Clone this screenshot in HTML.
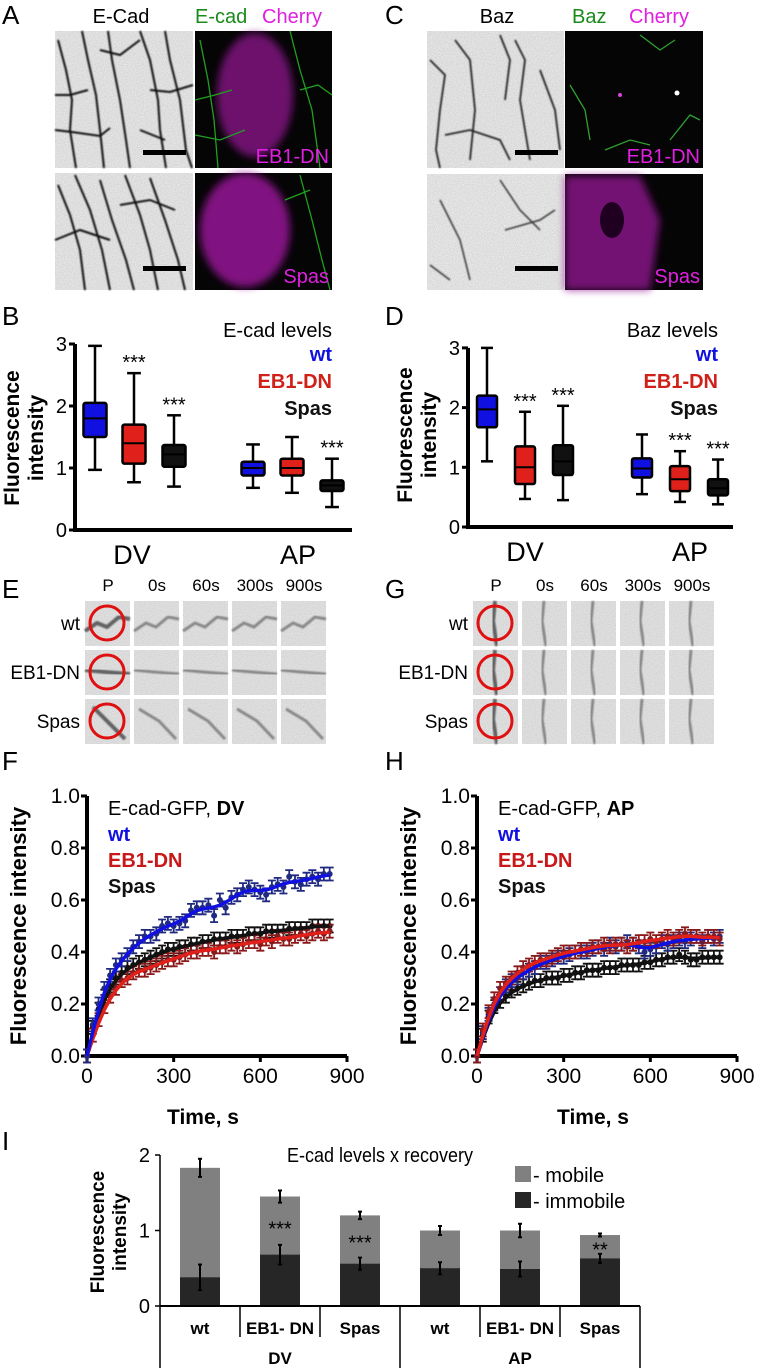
<!DOCTYPE html>
<html><head><meta charset="utf-8"><style>
html,body{margin:0;padding:0;background:#fff}
svg{display:block;font-family:"Liberation Sans",sans-serif}
</style></head><body>
<svg id="fig" width="757" height="1368" viewBox="0 0 757 1368" xmlns="http://www.w3.org/2000/svg">
<defs>
<filter id="blur3"><feGaussianBlur stdDeviation="4"/></filter>
<filter id="blur1"><feGaussianBlur stdDeviation="0.7"/></filter>
<filter id="noise" x="0" y="0" width="100%" height="100%"><feTurbulence type="fractalNoise" baseFrequency="0.9" numOctaves="1" seed="3"/><feColorMatrix type="matrix" values="0 0 0 0 0  0 0 0 0 0  0 0 0 0 0  0 0 0 0.18 0"/></filter>
</defs>

<g font-size="26">
<text x="2" y="24">A</text><text x="385" y="24">C</text>
<text x="2" y="325">B</text><text x="385" y="325">D</text>
<text x="2" y="598">E</text><text x="385" y="598">G</text>
<text x="2" y="770">F</text><text x="385" y="770">H</text>
<text x="2" y="1150">I</text>
</g>

<g>
<text x="121" y="23" font-size="20" text-anchor="middle">E-Cad</text>
<text x="195" y="23" font-size="20" fill="#1a8a1a">E-cad</text><text x="262" y="23" font-size="20" fill="#e020e0">Cherry</text>
<rect x="55" y="31" width="138" height="137" fill="#f4f4f4"/>
<rect x="55" y="31" width="138" height="137" filter="url(#noise)"/>
<g stroke="#111" stroke-width="2" fill="none" filter="url(#blur1)">
<path d="M58 40 L66 70 L72 100 L70 130 L76 168"/><path d="M82 31 L88 60 L96 95 L100 130 L104 168"/>
<path d="M108 31 L112 60 L120 100 L126 140 L130 168"/><path d="M140 31 L150 60 L158 100 L160 130 L166 168"/>
<path d="M165 31 L170 60 L180 100 L186 150 L192 168"/><path d="M55 95 L70 95 L88 90"/><path d="M55 130 L72 132 L100 136 L110 128"/>
<path d="M100 50 L120 55 L140 40"/><path d="M150 90 L170 92 L193 85"/><path d="M140 130 L165 140"/>
</g>
<rect x="143" y="150" width="43" height="5" fill="#000"/>
<rect x="55" y="173" width="138" height="117" fill="#f4f4f4"/>
<rect x="55" y="173" width="138" height="117" filter="url(#noise)"/>
<g stroke="#111" stroke-width="2" fill="none" filter="url(#blur1)">
<path d="M58 185 L70 215 L80 250 L85 290"/><path d="M75 175 L90 210 L102 250 L110 290"/><path d="M100 180 L112 220 L126 260 L134 290"/>
<path d="M125 175 L140 215 L150 250 L158 290"/><path d="M150 178 L165 220 L178 260 L185 290"/><path d="M55 240 L80 230 L110 240"/><path d="M120 205 L150 200 L175 210"/>
</g>
<rect x="143" y="266" width="43" height="5" fill="#000"/>
<rect x="195" y="31" width="137" height="137" fill="#050505"/>
<ellipse cx="255" cy="95" rx="38" ry="62" fill="#901890" filter="url(#blur3)" opacity="0.75"/>
<g stroke="#20a020" stroke-width="1.3" fill="none"><path d="M200 40 L208 80 L214 120 L218 168"/><path d="M195 100 L215 95 L232 90"/><path d="M290 31 L300 70 L312 110 L320 168"/><path d="M300 90 L318 85 L332 95"/><path d="M195 135 L220 140 L245 130"/></g>
<text x="329" y="163" font-size="20" fill="#e020e0" text-anchor="end">EB1-DN</text>
<rect x="195" y="173" width="137" height="117" fill="#050505"/>
<ellipse cx="245" cy="230" rx="45" ry="57" fill="#a018a0" filter="url(#blur3)" opacity="0.8"/>
<g stroke="#20a020" stroke-width="1.3" fill="none"><path d="M300 175 L312 220 L322 260 L330 290"/><path d="M285 200 L310 190"/></g>
<text x="329" y="283" font-size="20" fill="#e020e0" text-anchor="end">Spas</text>
</g>

<g>
<text x="497" y="23" font-size="20" text-anchor="middle">Baz</text>
<text x="572" y="23" font-size="20" fill="#1a8a1a">Baz</text><text x="629" y="23" font-size="20" fill="#e020e0">Cherry</text>
<rect x="427" y="31" width="137" height="137" fill="#f4f4f4"/>
<rect x="427" y="31" width="137" height="137" filter="url(#noise)"/>
<g stroke="#222" stroke-width="1.8" fill="none" filter="url(#blur1)">
<path d="M430 60 L445 75 L440 110 L436 150 L440 168"/><path d="M455 40 L470 60 L475 110 L470 160"/><path d="M500 35 L510 60 L505 100"/>
<path d="M515 40 L525 60 L520 100 L530 160"/><path d="M445 135 L470 130 L500 140 L510 160"/><path d="M540 70 L555 110 L560 150"/>
</g>
<rect x="515" y="150" width="43" height="5" fill="#000"/>
<rect x="427" y="174" width="137" height="116" fill="#f6f6f6"/>
<rect x="427" y="174" width="137" height="116" filter="url(#noise)"/>
<g stroke="#333" stroke-width="1.5" fill="none" filter="url(#blur1)"><path d="M440 200 L460 240 L470 280"/><path d="M500 180 L520 210 L540 230"/><path d="M505 230 L540 220 L555 210"/><path d="M430 265 L450 280"/></g>
<rect x="515" y="266" width="43" height="5" fill="#000"/>
<rect x="565" y="31" width="138" height="137" fill="#050505"/>
<g stroke="#30a030" stroke-width="1.3" fill="none"><path d="M570 85 L585 110 L590 140"/><path d="M640 35 L660 50 L675 40"/><path d="M670 140 L690 115 L700 120"/><path d="M605 150 L630 140 L650 145"/></g>
<circle cx="620" cy="95" r="2" fill="#e040e0"/><circle cx="677" cy="93" r="2.5" fill="#fff"/>
<text x="700" y="163" font-size="20" fill="#e020e0" text-anchor="end">EB1-DN</text>
<rect x="565" y="174" width="138" height="116" fill="#050505"/>
<path d="M565 176 L640 176 L660 220 L650 290 L565 290 Z" fill="#901890" filter="url(#blur3)" opacity="0.8"/>
<ellipse cx="612" cy="220" rx="12" ry="18" fill="#200020"/>
<text x="700" y="283" font-size="20" fill="#e020e0" text-anchor="end">Spas</text>
</g>

<g id="boxB"></g>
<g id="boxD"></g>
<g id="kymo"></g>
<g id="frapF"></g>
<g id="frapH"></g>
<g id="barI"></g>
</svg>
<script>
// ---------- Box plot data ----------
const boxGroups = ["wt","EB1-DN","Spas","wt","EB1-DN","Spas"];
const boxColors = ["#1010e0","#e0201a","#111111","#1010e0","#e0201a","#111111"];
// [whiskerLow, q1, median, q3, whiskerHigh]
const ecadBoxes = [[0.97,1.5,1.8,2.05,2.97],[0.77,1.07,1.4,1.7,2.53],[0.7,1.02,1.22,1.37,1.85],[0.68,0.88,1.0,1.1,1.38],[0.6,0.88,1.0,1.15,1.5],[0.37,0.63,0.72,0.8,1.15]];
const ecadStars = ["","***","***","","","***"];
const bazBoxes = [[1.1,1.67,1.97,2.2,3.0],[0.47,0.72,1.0,1.35,1.93],[0.45,0.87,1.1,1.37,2.03],[0.55,0.83,0.98,1.15,1.55],[0.42,0.6,0.8,1.02,1.27],[0.38,0.53,0.65,0.8,1.13]];
const bazStars = ["","***","***","","***","***"];
const boxTicks = [0,1,2,3];

// ---------- FRAP data (time in s) ----------
const frapTimes = [0,20,40,60,80,100,120,140,160,180,200,220,240,260,280,300,320,340,360,380,400,420,440,460,480,500,520,540,560,580,600,620,640,660,680,700,720,740,760,780,800,820,840];
const dvWt =   [0,0.12,0.2,0.26,0.31,0.35,0.37,0.39,0.42,0.44,0.46,0.46,0.47,0.50,0.51,0.50,0.51,0.52,0.56,0.57,0.57,0.58,0.54,0.60,0.57,0.61,0.62,0.64,0.65,0.64,0.63,0.62,0.65,0.66,0.65,0.69,0.67,0.66,0.68,0.69,0.68,0.70,0.70];
const dvEb1 =  [0,0.08,0.14,0.19,0.23,0.26,0.29,0.30,0.32,0.33,0.33,0.34,0.35,0.36,0.37,0.37,0.38,0.39,0.40,0.40,0.41,0.41,0.40,0.42,0.42,0.43,0.42,0.43,0.44,0.44,0.43,0.45,0.44,0.46,0.45,0.45,0.46,0.47,0.46,0.47,0.48,0.47,0.48];
const dvSpas = [0,0.11,0.18,0.23,0.27,0.30,0.32,0.34,0.35,0.36,0.37,0.38,0.39,0.40,0.41,0.41,0.42,0.42,0.43,0.43,0.44,0.44,0.45,0.45,0.45,0.46,0.46,0.46,0.47,0.47,0.47,0.48,0.48,0.48,0.48,0.49,0.49,0.49,0.49,0.50,0.50,0.50,0.50];
const apWt =   [0,0.09,0.16,0.2,0.24,0.27,0.29,0.3,0.32,0.33,0.34,0.36,0.36,0.37,0.38,0.38,0.39,0.40,0.40,0.40,0.41,0.42,0.41,0.43,0.42,0.43,0.44,0.43,0.42,0.40,0.41,0.42,0.44,0.43,0.44,0.45,0.44,0.45,0.46,0.44,0.46,0.45,0.46];
const apEb1 =  [0,0.1,0.17,0.22,0.26,0.28,0.30,0.32,0.34,0.35,0.36,0.37,0.37,0.38,0.39,0.40,0.40,0.40,0.41,0.41,0.42,0.42,0.43,0.42,0.43,0.43,0.42,0.43,0.44,0.44,0.45,0.44,0.45,0.46,0.45,0.46,0.47,0.46,0.46,0.45,0.46,0.46,0.45];
const apSpas = [0,0.08,0.15,0.19,0.21,0.23,0.25,0.26,0.27,0.28,0.29,0.29,0.30,0.30,0.30,0.31,0.31,0.32,0.32,0.33,0.33,0.33,0.34,0.34,0.34,0.35,0.35,0.35,0.35,0.36,0.36,0.37,0.37,0.38,0.38,0.39,0.38,0.37,0.37,0.38,0.38,0.38,0.38];
const frapYTicks = ["0.0","0.2","0.4","0.6","0.8","1.0"];
const frapXTicks = [0,300,600,900];

// ---------- Bar data ----------
const barCats = ["wt","EB1- DN","Spas","wt","EB1- DN","Spas"];
const barTotal = [1.83,1.45,1.2,1.0,1.0,0.94];
const barTotalErr = [0.12,0.08,0.05,0.06,0.09,0.02];
const barImmobile = [0.38,0.68,0.56,0.5,0.49,0.63];
const barImmobileErr = [0.17,0.13,0.08,0.08,0.1,0.06];
const barStars = ["","***","***","","","**"];
const barTicks = [0,1,2];

const NS="http://www.w3.org/2000/svg";
function mk(parent,tag,attrs,text){const e=document.createElementNS(NS,tag);for(const k in attrs)e.setAttribute(k,attrs[k]);if(text!==undefined)e.textContent=text;parent.appendChild(e);return e;}

function boxPlot(g,cfg){
  const y=v=>cfg.y0-v*cfg.unit;
  const ax=mk(g,'path',{d:`M${cfg.ax} ${y(3)} V${cfg.y0} H${cfg.axEnd}`,stroke:'#000','stroke-width':4,fill:'none'});
  
  
  boxTicks.forEach(t=>{
    mk(g,'line',{x1:cfg.ax-6,x2:cfg.ax,y1:y(t),y2:y(t),stroke:'#000','stroke-width':3});
    const tl=mk(g,'text',{x:cfg.ax-8,y:y(t)+7,'font-size':20,'text-anchor':'end'},String(t));
    
    
  });
  cfg.data.forEach((d,i)=>{
    const cx=cfg.xs[i],hw=cfg.hw;
    const bg=mk(g,'g',{});
    
    
    mk(bg,'line',{x1:cx,x2:cx,y1:y(d[0]),y2:y(d[4]),stroke:'#000','stroke-width':2.5});
    mk(bg,'line',{x1:cx-hw*0.6,x2:cx+hw*0.6,y1:y(d[0]),y2:y(d[0]),stroke:'#000','stroke-width':2.5});
    mk(bg,'line',{x1:cx-hw*0.6,x2:cx+hw*0.6,y1:y(d[4]),y2:y(d[4]),stroke:'#000','stroke-width':2.5});
    mk(bg,'rect',{x:cx-hw,y:y(d[3]),width:2*hw,height:y(d[1])-y(d[3]),fill:boxColors[i],stroke:'#000','stroke-width':2.5,rx:2});
    mk(bg,'line',{x1:cx-hw,x2:cx+hw,y1:y(d[2]),y2:y(d[2]),stroke:'#000','stroke-width':2});
    if(cfg.stars[i]){const s=mk(g,'text',{x:cx,y:y(d[4])-4,'font-size':20,'text-anchor':'middle'},cfg.stars[i]);
      
      }
  });
  const yl=mk(g,'text',{transform:`translate(${cfg.ax-48},${cfg.y0-92}) rotate(-90)`,'font-size':21,'font-weight':'bold','text-anchor':'middle'});
  
  
  mk(yl,'tspan',{x:0,dy:-8},'Fluorescence');mk(yl,'tspan',{x:0,dy:24},'intensity');
  const dv=mk(g,'text',{x:cfg.dvx,y:cfg.y0+34,'font-size':27,'text-anchor':'middle'},'DV');
  
  
  const ap=mk(g,'text',{x:cfg.apx,y:cfg.y0+34,'font-size':27,'text-anchor':'middle'},'AP');
  
  
  const lg=mk(g,'g',{'text-anchor':'end'});
  
  
  mk(lg,'text',{x:cfg.lx,y:cfg.ly,'font-size':20},cfg.title);
  mk(lg,'text',{x:cfg.lx,y:cfg.ly+24,'font-size':20,'font-weight':'bold',fill:'#1010e0'},'wt');
  mk(lg,'text',{x:cfg.lx,y:cfg.ly+51,'font-size':20,'font-weight':'bold',fill:'#d0201a'},'EB1-DN');
  mk(lg,'text',{x:cfg.lx,y:cfg.ly+78,'font-size':20,'font-weight':'bold',fill:'#111'},'Spas');
}
boxPlot(document.getElementById('boxB'),{ax:75,axEnd:352,y0:530,unit:62,xs:[95,134,174,253,292,332],hw:11.5,data:ecadBoxes,stars:ecadStars,dvx:132,apx:298,lx:332,ly:337,title:'E-cad levels'});
boxPlot(document.getElementById('boxD'),{ax:468,axEnd:733,y0:527,unit:59.7,xs:[487,525,563,642,680,718],hw:10,data:bazBoxes,stars:bazStars,dvx:525,apx:690,lx:718,ly:337,title:'Baz levels'});

(function(){
  const g=document.getElementById('kymo');
  const heads=["P","0s","60s","300s","900s"];
  const rows=["wt","EB1-DN","Spas"];
  const sets=[{xs:[85,134,183,232,281],lab:80,type:'E'},{xs:[473,522,571,620,669],lab:468,type:'G'}];
  const ys=[601,650,699];
  sets.forEach(s=>{
    heads.forEach((h,i)=>{const t=mk(g,'text',{x:s.xs[i]+23,y:591,'font-size':17,'text-anchor':'middle'},h);
      
      });
    rows.forEach((r,j)=>{
      const t=mk(g,'text',{x:s.lab,y:ys[j]+29,'font-size':19,'text-anchor':'end'},r);
      
      
      s.xs.forEach((x,i)=>{
        const y=ys[j];
        mk(g,'rect',{x:x,y:y,width:45,height:45,fill:'#ececec'});
        mk(g,'rect',{x:x,y:y,width:45,height:45,filter:'url(#noise)',opacity:0.8});
        let d;
        if(s.type==='E'){
          if(j===0)d=`M${x} ${y+30} L${x+12} ${y+22} L${x+22} ${y+26} L${x+34} ${y+16} L${x+45} ${y+18}`;
          else if(j===1)d=`M${x} ${y+20} L${x+20} ${y+22} L${x+45} ${y+24}`;
          else d=i===0?`M${x+8} ${y+8} L${x+40} ${y+40}`:`M${x+5} ${y+10} L${x+25} ${y+22} L${x+42} ${y+40}`;
        } else d=`M${x+22} ${y} L${x+20} ${y+20} L${x+24} ${y+45}`;
        mk(g,'path',{d:d,stroke:'#444',"stroke-width":i===0?4:3,fill:'none',opacity:i===0?0.8:0.55,filter:'url(#blur1)'});
        if(i===0){const c=mk(g,'circle',{cx:x+22,cy:y+22,r:17,fill:'none',stroke:'#e01010','stroke-width':3});
          
          }
      });
    });
  });
})();

function smooth(a){return a.map((v,i)=>{if(i===0)return v;const p=a[Math.max(0,i-1)],n=a[Math.min(a.length-1,i+1)];return (p+2*v+n)/4;});}
function frap(g,cfg){
  const x=t=>cfg.x0+t*(cfg.x1-cfg.x0)/900;
  const y=v=>cfg.y0-v*(cfg.y0-cfg.y1);
  const ax=mk(g,'path',{d:`M${cfg.x0} ${cfg.y1} V${cfg.y0} H${cfg.x1}`,stroke:'#000','stroke-width':4,fill:'none'});
  
  
  frapYTicks.forEach(t=>{const v=parseFloat(t);
    mk(g,'line',{x1:cfg.x0-6,x2:cfg.x0,y1:y(v),y2:y(v),stroke:'#000','stroke-width':3});
    const tl=mk(g,'text',{x:cfg.x0-7,y:y(v)+7,'font-size':21,'text-anchor':'end'},t);
    
    });
  frapXTicks.forEach(t=>{
    mk(g,'line',{x1:x(t),x2:x(t),y1:cfg.y0,y2:cfg.y0+6,stroke:'#000','stroke-width':3});
    const tl=mk(g,'text',{x:x(t),y:cfg.y0+27,'font-size':21,'text-anchor':'middle'},String(t));
    
    });
  const yl=mk(g,'text',{transform:`translate(${cfg.x0-61},${(cfg.y0+cfg.y1)/2}) rotate(-90)`,'font-size':22,'font-weight':'bold','text-anchor':'middle'},'Fluorescence intensity');
  
  
  const xl=mk(g,'text',{x:cfg.x0+116,y:cfg.y0+68,'font-size':21,'font-weight':'bold','text-anchor':'middle'},'Time, s');
  
  
  cfg.series.forEach(s=>{
    const sg=mk(g,'g',{});
    
    
    frapTimes.forEach((t,i)=>{
      const v=s.data[i],e=0.025,px=x(t);
      mk(sg,'path',{d:`M${px} ${y(v-e)} V${y(v+e)} M${px-4} ${y(v-e)} H${px+4} M${px-4} ${y(v+e)} H${px+4}`,stroke:s.ec,'stroke-width':1.8,fill:'none'});
      mk(sg,'circle',{cx:px,cy:y(v),r:3,fill:s.ec});
    });
  });
  cfg.series.forEach(s=>{
    let sm=s.data;for(let k=0;k<5;k++)sm=smooth(sm);
    const d=frapTimes.map((t,i)=>(i?'L':'M')+x(t).toFixed(1)+' '+y(sm[i]).toFixed(1)).join(' ');
    const p=mk(g,'path',{d:d,stroke:s.lc,'stroke-width':3.5,fill:'none','stroke-linejoin':'round'});
    
    
  });
  const lg=mk(g,'g',{'font-size':20});
  
  
  const t1=mk(lg,'text',{x:cfg.x0+21,y:cfg.y1+19});t1.textContent=cfg.title+', ';
  mk(t1,'tspan',{'font-weight':'bold'},cfg.bold);
  mk(lg,'text',{x:cfg.x0+21,y:cfg.y1+45,'font-weight':'bold',fill:'#1010e0'},'wt');
  mk(lg,'text',{x:cfg.x0+21,y:cfg.y1+71,'font-weight':'bold',fill:'#c81818'},'EB1-DN');
  mk(lg,'text',{x:cfg.x0+21,y:cfg.y1+97,'font-weight':'bold',fill:'#111'},'Spas');
}
frap(document.getElementById('frapF'),{x0:87,x1:347,y0:1056,y1:796,title:'E-cad-GFP',bold:'DV',series:[
  {name:'spas',data:dvSpas,ec:'#111',lc:'#111'},{name:'eb1-dn',data:dvEb1,ec:'#8a1a1a',lc:'#e0201a'},{name:'wt',data:dvWt,ec:'#202a80',lc:'#1010e0'}]});
frap(document.getElementById('frapH'),{x0:477,x1:737,y0:1056,y1:796,title:'E-cad-GFP',bold:'AP',series:[
  {name:'spas',data:apSpas,ec:'#111',lc:'#111'},{name:'wt',data:apWt,ec:'#202a80',lc:'#1010e0'},{name:'eb1-dn',data:apEb1,ec:'#8a1a1a',lc:'#e0201a'}]});

(function(){
  const g=document.getElementById('barI');
  const y0=1306,unit=75.5,ax=160;
  const y=v=>y0-v*unit;
  const cx=i=>200+i*80;
  const title=mk(g,'text',{x:380,y:1162,'font-size':20,'text-anchor':'middle',transform:'translate(380,0) scale(0.9,1) translate(-380,0)'},'E-cad levels x recovery');
  
  
  barTicks.forEach(t=>{
    mk(g,'line',{x1:ax-5,x2:ax,y1:y(t),y2:y(t),stroke:'#000','stroke-width':1.5});
    const tl=mk(g,'text',{x:ax-10,y:y(t)+7,'font-size':20,'text-anchor':'end'},String(t));
    
    
  });
  mk(g,'line',{x1:ax,x2:ax,y1:y(2),y2:y0,stroke:'#000','stroke-width':1.5});
  barCats.forEach((c,i)=>{
    const bg=mk(g,'g',{});
    
    
    mk(bg,'rect',{x:cx(i)-20,y:y(barTotal[i]),width:40,height:y0-y(barTotal[i]),fill:'#808080'});
    mk(bg,'rect',{x:cx(i)-20,y:y(barImmobile[i]),width:40,height:y0-y(barImmobile[i]),fill:'#262626'});
    [[barTotal[i],barTotalErr[i]],[barImmobile[i],barImmobileErr[i]]].forEach(([v,e])=>{
      mk(bg,'path',{d:`M${cx(i)} ${y(v-e)} V${y(v+e)} M${cx(i)-2} ${y(v-e)} H${cx(i)+2} M${cx(i)-2} ${y(v+e)} H${cx(i)+2}`,stroke:'#000','stroke-width':2,fill:'none'});
    });
    if(barStars[i]){const s=mk(g,'text',{x:cx(i),y:y((barTotal[i]+barImmobile[i])/2)+10,'font-size':20,'text-anchor':'middle'},barStars[i]);
      
      }
    const cl=mk(g,'text',{x:cx(i),y:1334,'font-size':17,'font-weight':'bold','text-anchor':'middle'},c);
    
    
  });
  mk(g,'line',{x1:ax,x2:640,y1:y0,y2:y0,stroke:'#000','stroke-width':2});
  [160,400,640].forEach(x=>mk(g,'line',{x1:x,x2:x,y1:y0,y2:1368,stroke:'#000','stroke-width':1.5}));
  [240,320,480,560].forEach(x=>mk(g,'line',{x1:x,x2:x,y1:y0,y2:1337,stroke:'#000','stroke-width':1.5}));
  const dv=mk(g,'text',{x:280,y:1364,'font-size':17,'font-weight':'bold','text-anchor':'middle'},'DV');
  
  
  const ap=mk(g,'text',{x:520,y:1364,'font-size':17,'font-weight':'bold','text-anchor':'middle'},'AP');
  
  
  const yl=mk(g,'text',{transform:'translate(106,1232) rotate(-90)','font-size':19,'font-weight':'bold','text-anchor':'middle'});
  
  
  mk(yl,'tspan',{x:0,dy:-2},'Fluorescence');mk(yl,'tspan',{x:0,dy:22},'intensity');
  const lg=mk(g,'g',{});
  
  
  mk(lg,'rect',{x:515,y:1166,width:16,height:16,fill:'#808080'});
  mk(lg,'text',{x:533,y:1182,'font-size':20},'- mobile');
  mk(lg,'rect',{x:515,y:1192,width:16,height:16,fill:'#262626'});
  mk(lg,'text',{x:533,y:1208,'font-size':20},'- immobile');
})();
</script>
</body></html>
